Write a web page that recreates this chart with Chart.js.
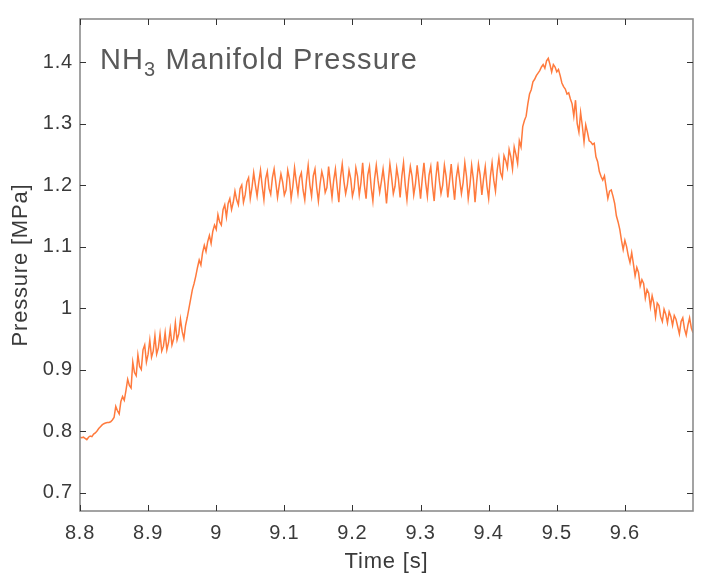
<!DOCTYPE html>
<html lang="en">
<head>
<meta charset="UTF-8">
<title>NH3 Manifold Pressure</title>
<script src="https://cdn.jsdelivr.net/npm/chart.js"></script>
<style>
  html, body { margin: 0; padding: 0; background: #fff; }
  #wrap { width: 704px; height: 576px; }
</style>
</head>
<body>
<div id="wrap"><canvas id="chart" width="704" height="576"></canvas></div>
<script>
// sampling grid of the trace (seconds)
const tStart = 8.8;
const tStep = 0.0025;

// manifold pressure [MPa], one value per sample (10 per row = 0.025 s)
const pressure = [
  0.790, 0.789, 0.790, 0.788, 0.786, 0.790, 0.792, 0.791, 0.795, 0.797,
  0.800, 0.804, 0.807, 0.810, 0.812, 0.813, 0.814, 0.814, 0.815, 0.818,
  0.822, 0.840, 0.833, 0.828, 0.848, 0.856, 0.850, 0.866, 0.884, 0.874,
  0.870, 0.912, 0.895, 0.890, 0.924, 0.905, 0.900, 0.932, 0.940, 0.912,
  0.925, 0.948, 0.920, 0.930, 0.955, 0.925, 0.935, 0.958, 0.930, 0.938,
  0.960, 0.932, 0.944, 0.966, 0.940, 0.950, 0.976, 0.948, 0.958, 0.982,
  0.962, 0.950, 0.972, 0.985, 1.000, 1.015, 1.030, 1.040, 1.052, 1.066,
  1.078, 1.070, 1.090, 1.102, 1.092, 1.108, 1.118, 1.105, 1.125, 1.135,
  1.128, 1.152, 1.140, 1.135, 1.160, 1.168, 1.148, 1.170, 1.178, 1.160,
  1.172, 1.190, 1.176, 1.168, 1.194, 1.200, 1.172, 1.184, 1.205, 1.212,
  1.178, 1.196, 1.220, 1.200, 1.182, 1.205, 1.224, 1.198, 1.176, 1.210,
  1.222, 1.195, 1.185, 1.212, 1.226, 1.204, 1.180, 1.200, 1.218, 1.205,
  1.184, 1.192, 1.224, 1.210, 1.178, 1.198, 1.228, 1.206, 1.186, 1.212,
  1.220, 1.192, 1.176, 1.208, 1.232, 1.200, 1.182, 1.215, 1.226, 1.196,
  1.174, 1.202, 1.222, 1.210, 1.188, 1.196, 1.230, 1.204, 1.180, 1.208,
  1.226, 1.198, 1.172, 1.212, 1.234, 1.206, 1.186, 1.200, 1.224, 1.210,
  1.182, 1.194, 1.228, 1.214, 1.184, 1.204, 1.236, 1.200, 1.178, 1.216,
  1.230, 1.196, 1.174, 1.210, 1.232, 1.208, 1.188, 1.206, 1.226, 1.202,
  1.170, 1.204, 1.234, 1.212, 1.186, 1.198, 1.228, 1.210, 1.180, 1.214,
  1.236, 1.200, 1.176, 1.208, 1.230, 1.214, 1.184, 1.202, 1.232, 1.206,
  1.178, 1.210, 1.236, 1.204, 1.182, 1.216, 1.230, 1.198, 1.174, 1.212,
  1.238, 1.208, 1.186, 1.200, 1.232, 1.214, 1.180, 1.206, 1.234, 1.202,
  1.176, 1.212, 1.230, 1.208, 1.186, 1.204, 1.236, 1.214, 1.178, 1.200,
  1.232, 1.210, 1.172, 1.206, 1.234, 1.216, 1.184, 1.210, 1.230, 1.198,
  1.178, 1.214, 1.236, 1.208, 1.190, 1.224, 1.244, 1.220, 1.212, 1.248,
  1.240, 1.228, 1.258, 1.246, 1.226, 1.262, 1.250, 1.235, 1.272, 1.262,
  1.295, 1.305, 1.312, 1.332, 1.348, 1.355, 1.368, 1.372, 1.378, 1.382,
  1.386, 1.392, 1.396, 1.390, 1.402, 1.406, 1.396, 1.384, 1.396, 1.392,
  1.384, 1.388, 1.378, 1.366, 1.360, 1.356, 1.348, 1.350, 1.340, 1.332,
  1.312, 1.338, 1.300, 1.286, 1.318, 1.296, 1.270, 1.298, 1.286, 1.272,
  1.270, 1.266, 1.268, 1.246, 1.238, 1.222, 1.214, 1.208, 1.215, 1.196,
  1.178, 1.190, 1.192, 1.182, 1.170, 1.150, 1.140, 1.128, 1.110, 1.095,
  1.110, 1.100, 1.085, 1.074, 1.090, 1.072, 1.052, 1.066, 1.058, 1.036,
  1.046, 1.040, 1.016, 1.030, 1.024, 1.002, 1.020, 1.008, 0.986, 1.008,
  1.004, 0.986, 0.978, 0.998, 0.990, 0.976, 0.994, 0.986, 0.972, 0.988,
  0.982, 0.970, 0.958, 0.978, 0.984, 0.966, 0.956, 0.972, 0.984, 0.968,
  0.960
];

const xTicks = [8.8, 8.9, 9.0, 9.1, 9.2, 9.3, 9.4, 9.5, 9.6];
const yTicks = [0.7, 0.8, 0.9, 1.0, 1.1, 1.2, 1.3, 1.4];
const xRange = [8.8, 9.7];
const yRange = [0.67, 1.47];

const points = pressure.map((p, i) => ({ x: +(tStart + i * tStep).toFixed(4), y: p }));

const fontFamily = '"Liberation Sans", Arial, Helvetica, sans-serif';
const fmt = v => String(+(+v).toFixed(1));

// MATLAB-like box with inward ticks on all four sides
const boxAxes = {
  id: 'boxAxes',
  beforeDraw(chart) {
    chart.ctx.letterSpacing = '0.8px';
  },
  afterDraw(chart) {
    const { ctx, chartArea: a, scales } = chart;
    ctx.save();
    ctx.strokeStyle = '#8c8c8c';
    ctx.lineWidth = 1.6;
    ctx.strokeRect(a.left, a.top, a.right - a.left, a.bottom - a.top);
    ctx.strokeStyle = '#333';
    ctx.lineWidth = 1;
    const len = 6;
    ctx.beginPath();
    xTicks.forEach(v => {
      const x = Math.round(scales.x.getPixelForValue(v)) + 0.5;
      ctx.moveTo(x, a.bottom); ctx.lineTo(x, a.bottom - len);
      ctx.moveTo(x, a.top); ctx.lineTo(x, a.top + len);
    });
    yTicks.forEach(v => {
      const y = Math.round(scales.y.getPixelForValue(v)) + 0.5;
      ctx.moveTo(a.left, y); ctx.lineTo(a.left + len, y);
      ctx.moveTo(a.right, y); ctx.lineTo(a.right - len, y);
    });
    ctx.stroke();

    // title inside the axes: NH3 Manifold Pressure
    ctx.fillStyle = '#595959';
    ctx.textBaseline = 'alphabetic';
    ctx.textAlign = 'left';
    ctx.letterSpacing = '1.1px';
    let x = a.left + 20, y = a.top + 50;
    ctx.font = '29px ' + fontFamily;
    ctx.fillText('NH', x, y);
    x += ctx.measureText('NH').width;
    ctx.font = '20px ' + fontFamily;
    ctx.fillText('3', x, y + 7);
    x += ctx.measureText('3').width;
    ctx.font = '29px ' + fontFamily;
    ctx.fillText(' Manifold Pressure', x, y);
    ctx.restore();
  }
};

new Chart(document.getElementById('chart'), {
  type: 'line',
  data: {
    datasets: [{
      data: points,
      borderColor: '#ff7a3d',
      borderWidth: 1.5,
      pointRadius: 0,
      tension: 0,
      fill: false
    }]
  },
  options: {
    responsive: false,
    animation: false,
    devicePixelRatio: 1,
    layout: { padding: { top: 15, right: 11, left: 0, bottom: 0 } },
    plugins: { legend: { display: false }, tooltip: { enabled: false } },
    scales: {
      x: {
        type: 'linear',
        min: xRange[0],
        max: xRange[1],
        afterBuildTicks: s => { s.ticks = xTicks.map(v => ({ value: v })); },
        afterFit: s => { s.height = 65; },
        grid: { display: false, drawTicks: false },
        border: { display: false },
        ticks: {
          callback: fmt,
          color: '#3a3a3a',
          padding: 10,
          maxRotation: 0,
          font: { family: fontFamily, size: 20 }
        },
        title: {
          display: true,
          text: 'Time [s]',
          color: '#3a3a3a',
          padding: { top: 0, bottom: 1 },
          font: { family: fontFamily, size: 22 }
        }
      },
      y: {
        type: 'linear',
        min: yRange[0],
        max: yRange[1],
        afterBuildTicks: s => { s.ticks = yTicks.map(v => ({ value: v })); },
        afterFit: s => { s.width = 80; },
        grid: { display: false, drawTicks: false },
        border: { display: false },
        ticks: {
          callback: fmt,
          color: '#3a3a3a',
          padding: 7,
          font: { family: fontFamily, size: 20 }
        },
        title: {
          display: true,
          text: 'Pressure [MPa]',
          color: '#3a3a3a',
          padding: { top: 8, bottom: 0 },
          font: { family: fontFamily, size: 22 }
        }
      }
    }
  },
  plugins: [boxAxes]
});
</script>
</body>
</html>
